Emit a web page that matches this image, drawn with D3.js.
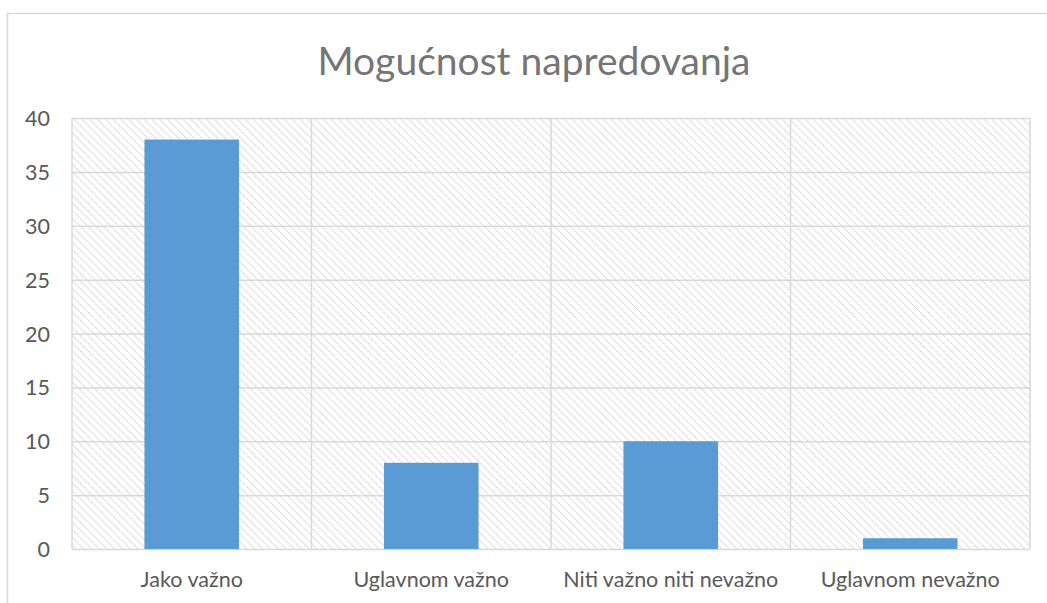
<!DOCTYPE html>
<html>
<head>
<meta charset="UTF-8">
<title>Mogućnost napredovanja</title>
<script src="https://d3js.org/d3.v7.min.js"></script>
<style>
  body { margin: 0; background: #fff; font-family: Lato, "Open Sans", sans-serif; }
  .tick text { font-family: Lato, "Open Sans", sans-serif; font-size: 21.5px; fill: #595959; }
  .title { font-size: 39px; fill: #757575; }
</style>
</head>
<body>
<div id="chart"></div>
<script>
  var categories = ["Jako važno", "Uglavnom važno", "Niti važno niti nevažno", "Uglavnom nevažno"];
  var values = [38, 8, 10, 1];
  var yTicks = [0, 5, 10, 15, 20, 25, 30, 35, 40];

  var W = 1047, H = 603;
  var margin = {top: 118, right: 17, bottom: 54, left: 72},
      width = W - margin.left - margin.right,
      height = H - margin.top - margin.bottom;

  var svg = d3.select("#chart").append("svg")
      .attr("width", W).attr("height", H);

  // outer chart border
  svg.append("rect")
      .attr("x", 7.5).attr("y", 13.5)
      .attr("width", W + 10).attr("height", H + 10)
      .attr("fill", "none").attr("stroke", "#d9d9d9").attr("stroke-width", 1.5);

  // hatch pattern for plot area (downward diagonal)
  var pat = svg.append("defs").append("pattern")
      .attr("id", "hatch")
      .attr("patternUnits", "userSpaceOnUse")
      .attr("width", 5.5).attr("height", 5.5)
      .attr("patternTransform", "rotate(-45)");
  pat.append("line")
      .attr("x1", 0).attr("y1", 0).attr("x2", 0).attr("y2", 5.5)
      .attr("stroke", "#cfcfcf").attr("stroke-width", 2.2)
      .attr("stroke-dasharray", "1.6,0.9");

  svg.append("text")
      .attr("class", "title")
      .attr("x", 534).attr("y", 75)
      .attr("text-anchor", "middle")
      .text("Mogućnost napredovanja");

  var g = svg.append("g")
      .attr("transform", "translate(" + margin.left + "," + margin.top + ")");

  var x = d3.scaleBand().domain(categories).range([0, width]).paddingInner(0).paddingOuter(0);
  var y = d3.scaleLinear().domain([0, 40]).range([height, 0]);

  g.append("rect")
      .attr("width", width).attr("height", height)
      .attr("fill", "url(#hatch)");

  // horizontal gridlines
  g.selectAll(".hgrid").data(yTicks).enter().append("line")
      .attr("x1", 0).attr("x2", width)
      .attr("y1", function(d) { return y(d) + 0.5; })
      .attr("y2", function(d) { return y(d) + 0.5; })
      .attr("stroke", "#d9d9d9").attr("stroke-width", 1.5);

  // vertical gridlines at category boundaries
  var bounds = categories.map(function(c) { return x(c); }).concat([width]);
  g.selectAll(".vgrid").data(bounds).enter().append("line")
      .attr("x1", function(d) { return d; }).attr("x2", function(d) { return d; })
      .attr("y1", 0).attr("y2", height)
      .attr("stroke", "#d9d9d9").attr("stroke-width", 1.5);

  var bw = x.bandwidth() * 0.395;
  g.selectAll(".bar").data(values).enter().append("rect")
      .attr("x", function(d, i) { return x(categories[i]) + (x.bandwidth() - bw) / 2; })
      .attr("y", function(d) { return y(d); })
      .attr("width", bw)
      .attr("height", function(d) { return height - y(d); })
      .attr("fill", "#5b9bd5");

  var yAxis = g.append("g")
      .call(d3.axisLeft(y).tickValues(yTicks).tickSize(0).tickPadding(22));
  yAxis.select(".domain").remove();
  yAxis.selectAll("text").attr("dy", "0.35em");

  var xAxis = g.append("g")
      .attr("transform", "translate(0," + height + ")")
      .call(d3.axisBottom(x).tickSize(0).tickPadding(23));
  xAxis.select(".domain").remove();
</script>
</body>
</html>
